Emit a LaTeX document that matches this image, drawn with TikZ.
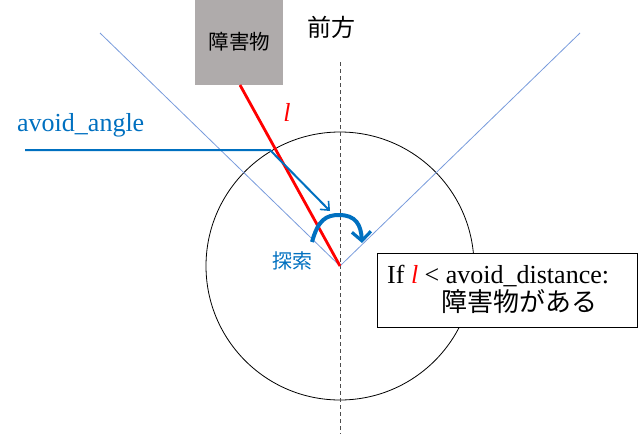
\documentclass[tikz,border=0pt]{standalone}
\usepackage{fontspec}
\setmainfont{Liberation Serif}
\newfontfamily\jp{Noto Sans CJK JP}
\usetikzlibrary{arrows.meta}
\definecolor{obsgray}{RGB}{175,171,171}
\definecolor{myblue}{RGB}{0,112,192}
\definecolor{thinblue}{RGB}{120,155,220}
\tikzset{
  thinray/.style={draw=thinblue, line width=0.8pt},
  jplabel/.style={font=\jp, inner sep=0pt},
  latlabel/.style={inner sep=0pt},
}
\begin{document}
\begin{tikzpicture}[x=1pt,y=-1pt]
\useasboundingbox (0,0) rectangle (638,434);
% key points
\coordinate (V) at (340,266);
\coordinate (TL) at (100,33);
\coordinate (TR) at (580,33);
\coordinate (DT) at (340,62);
\coordinate (DB) at (340,434);
% circle
\draw[black, line width=0.8pt] (V) circle[radius=134];
% dashed axis
\draw[black!70, line width=0.9pt, dash pattern=on 4pt off 3pt] (DT) -- (DB);
% thin rays
\draw[thinray] (V) -- (TL);
\draw[thinray] (V) -- (TR);
% obstacle
\node[fill=obsgray, minimum width=88, minimum height=85, inner sep=0pt, anchor=north west] (obs) at (195,0) {};
\node[jplabel, font=\jp\fontsize{20.5}{22}\selectfont] (obst) at (239.5,42) {障害物};
\node[jplabel, font=\jp\fontsize{24}{26}\selectfont] (front) at (331,27) {前方};
% red distance line
\coordinate (R0) at (240,85);
\draw[red, line width=2.8pt] (R0) -- (V);
\node[latlabel, text=red, font=\fontsize{26}{28}\selectfont\itshape] (ell) at (287,112) {l};
% avoid_angle label and pointer
\node[latlabel, text=myblue, font=\fontsize{26}{28}\selectfont, anchor=west] (aa) at (17,125) {avoid\_angle};
\coordinate (P0) at (25,150);
\coordinate (P1) at (270,150);
\coordinate (P2) at (330,211);
\draw[myblue, line width=2pt, -{Straight Barb[length=7pt,width=12pt,line width=1.6pt]}] (P0) -- (P1) -- (P2);
% search arc
\coordinate (S0) at (312,242);
\coordinate (S1) at (339,215);
\coordinate (S2) at (362,243);
\draw[myblue, line width=4pt, -{Straight Barb[length=9pt,width=19pt,line width=3.2pt]}]
  (S0) .. controls (318,220) and (326,215) .. (S1)
       .. controls (356,215) and (361,225) .. (S2);
\node[jplabel, text=myblue, font=\jp\fontsize{20}{22}\selectfont] (search) at (292,261) {探索};
% condition box
\node[draw=black, fill=white, line width=1pt, minimum width=260, minimum height=74, inner sep=0pt] (box) at (507,290) {};
\node[latlabel, font=\fontsize{26}{28}\selectfont, anchor=base west] (cond) at (387,283) {If \textcolor{red}{\itshape l} < avoid\_distance:};
\node[jplabel, font=\jp\fontsize{26}{28}\selectfont, anchor=west] (res) at (441,302) {障害物がある};
\end{tikzpicture}
\end{document}
